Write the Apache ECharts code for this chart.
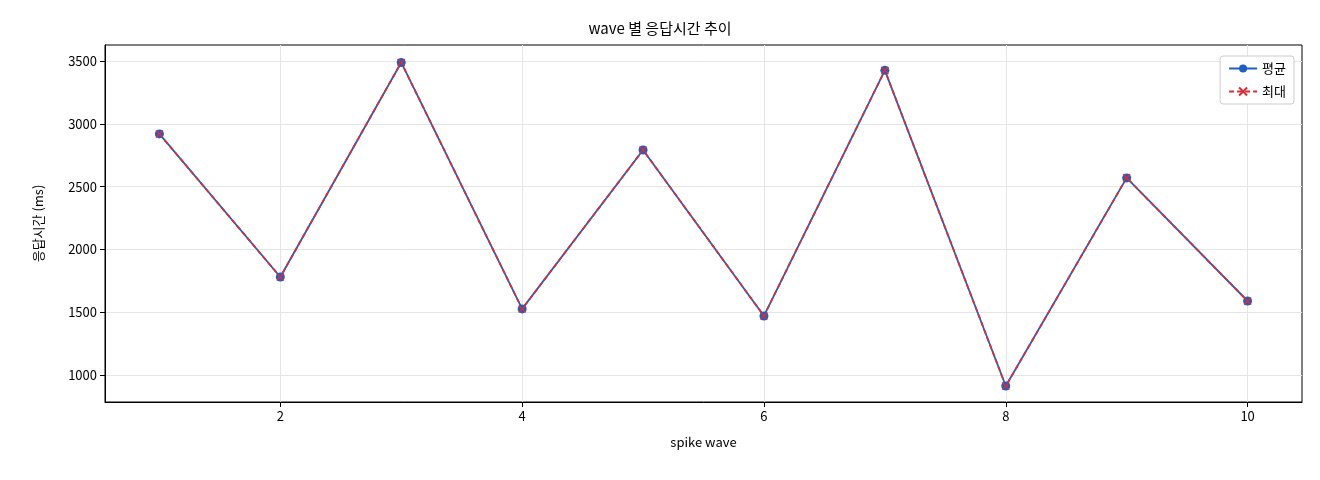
<!DOCTYPE html>
<html><head><meta charset="utf-8">
<script src="https://cdn.jsdelivr.net/npm/echarts@6/dist/echarts.min.js"></script>
<style>body{margin:0;background:#fff}#c{width:1320px;height:480px}</style>
</head><body><div id="c"></div>
<script>
const waves=[1,2,3,4,5,6,7,8,9,10];
const avgVals=[2919,1780,3488,1526,2791,1470,3425,912,2569,1589];
const maxVals=[2919,1780,3488,1526,2791,1470,3425,912,2569,1589];
const F='"Noto Sans CJK KR", "DejaVu Sans", sans-serif';
const chart=echarts.init(document.getElementById('c'));
chart.setOption({
 animation:false,
 title:{text:'wave 별 응답시간 추이',left:'center',top:16,textStyle:{fontFamily:F,fontSize:15,fontWeight:'normal',color:'#000'}},
 legend:{right:26,top:56,orient:'vertical',itemWidth:28,itemHeight:10,itemGap:10,backgroundColor:'#fff',borderColor:'#ccc',borderWidth:1,borderRadius:3,padding:[6,8],textStyle:{fontFamily:F,fontSize:13,color:'#000'},
  data:['평균','최대']},
 grid:{left:105,right:18,top:45,bottom:78,show:true,borderColor:'#000',borderWidth:1},
 xAxis:{type:'value',min:0.55,max:10.45,interval:2,
  axisLabel:{fontFamily:F,fontSize:13,color:'#000',customValues:[2,4,6,8,10]},
  axisTick:{customValues:[2,4,6,8,10],lineStyle:{color:'#000'}},
  splitLine:{show:true,lineStyle:{color:'#e5e5e5'}},
  axisLine:{onZero:false,lineStyle:{color:'#000'}},
  name:'spike wave',nameLocation:'middle',nameGap:34,nameTextStyle:{fontFamily:F,fontSize:13,color:'#000'}},
 yAxis:{type:'value',min:785,max:3627,
  axisLabel:{fontFamily:F,fontSize:13,color:'#000',formatter:v=>String(v),customValues:[1000,1500,2000,2500,3000,3500]},
  axisTick:{show:true,customValues:[1000,1500,2000,2500,3000,3500],lineStyle:{color:'#000'}},
  splitLine:{show:true,lineStyle:{color:'#e5e5e5'}},
  axisLine:{show:true,lineStyle:{color:'#000'}},
  name:'응답시간 (ms)',nameLocation:'middle',nameGap:60,nameTextStyle:{fontFamily:F,fontSize:13,color:'#000'}},
 series:[
  {name:'평균',type:'line',data:waves.map((w,i)=>[w,avgVals[i]]),color:'#1f5fbf',symbol:'circle',symbolSize:9,lineStyle:{width:1.8}},
  {name:'최대',type:'line',data:waves.map((w,i)=>[w,maxVals[i]]),color:'#d62f3a',symbol:'path://M-1,-1L1,1M1,-1L-1,1',symbolSize:7,itemStyle:{borderColor:'#d62f3a',borderWidth:1.5},lineStyle:{width:1.8,type:[5,3]}}
 ]
});
</script></body></html>
